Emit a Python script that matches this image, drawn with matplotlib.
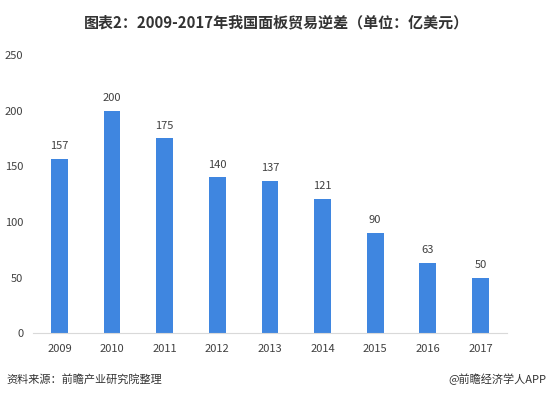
import matplotlib
matplotlib.use('Agg')
import matplotlib.pyplot as plt

plt.rcParams['font.family'] = ['Noto Sans CJK SC', 'DejaVu Sans']

# data
years = ['2009', '2010', '2011', '2012', '2013', '2014', '2015', '2016', '2017']
deficit = [157, 200, 175, 140, 137, 121, 90, 63, 50]
yticks = [0, 50, 100, 150, 200, 250]

fig = plt.figure(figsize=(5.52, 3.99), dpi=100)
ax = fig.add_axes([0.06, 0.165, 0.858, 0.697])

x = range(len(years))
bars = ax.bar(x, deficit, width=0.32, color='#3f86e0')
for xi, v in zip(x, deficit):
    ax.text(xi, v + 7, str(v), ha='center', va='bottom', fontsize=8, color='#404040')

ax.set_xlim(-0.5, len(years) - 0.5)
ax.set_ylim(0, 250)
ax.set_yticks(yticks)
ax.set_xticks(list(x))
ax.set_xticklabels(years)
ax.tick_params(axis='both', length=0, labelsize=8, colors='#404040')
ax.tick_params(axis='x', pad=8)
ax.tick_params(axis='y', pad=7)
for s in ['top', 'right', 'left']:
    ax.spines[s].set_visible(False)
ax.spines['bottom'].set_color('#d9d9d9')

fig.text(0.5, 0.945, '图表2：2009-2017年我国面板贸易逆差（单位：亿美元）',
         ha='center', va='center', fontsize=10.8, fontweight='bold', color='#333333')
fig.text(0.012, 0.05, '资料来源：前瞻产业研究院整理', ha='left', va='center',
         fontsize=8, style='italic', color='#333333')
fig.text(0.99, 0.05, '@前瞻经济学人APP', ha='right', va='center',
         fontsize=8, color='#333333')

fig.savefig('out.png', dpi=100)
